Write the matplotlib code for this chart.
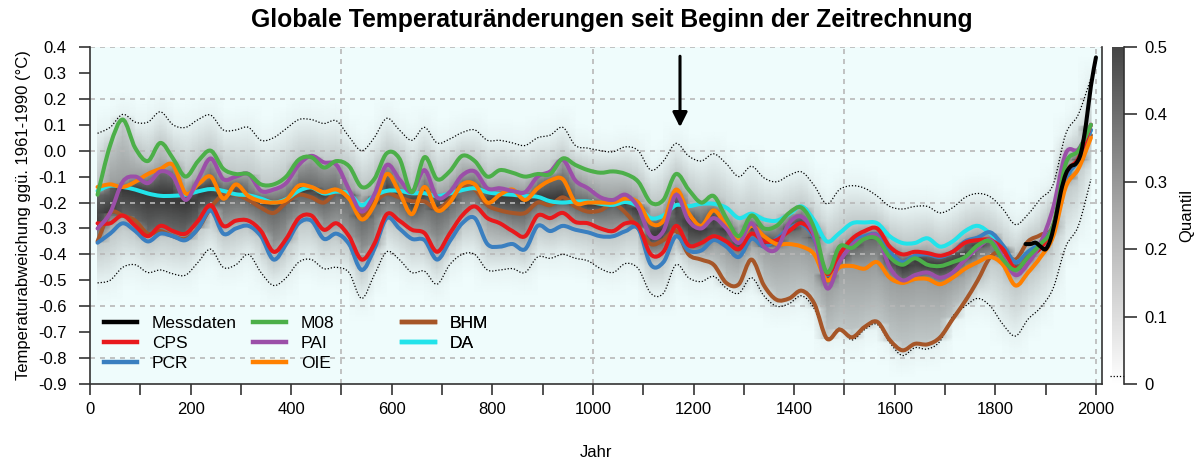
import numpy as np
import matplotlib
matplotlib.use("Agg")
import matplotlib.pyplot as plt
from matplotlib.colors import LinearSegmentedColormap
from matplotlib.lines import Line2D
from matplotlib.path import Path
from matplotlib.patches import PathPatch

plt.rcParams['font.family'] = ['Liberation Sans', 'DejaVu Sans']
plt.rcParams['axes.unicode_minus'] = False

# --- data (25-year steps) ---
years = np.arange(15, 1991, 25)

m08 = [-0.17, 0.02, 0.12, 0.01, -0.04, 0.03, -0.03, -0.10, -0.04, 0.0,
       -0.07, -0.09, -0.09, -0.13, -0.13, -0.10, -0.035, -0.025, -0.065, -0.04,
       -0.06, -0.14, -0.11, -0.01, -0.03, -0.16, -0.025, -0.11, -0.08, -0.02,
       -0.04, -0.10, -0.075, -0.085, -0.10, -0.09, -0.09, -0.03, -0.055, -0.075,
       -0.085, -0.08, -0.09, -0.12, -0.20, -0.19, -0.09, -0.15, -0.20, -0.175,
       -0.26, -0.33, -0.25, -0.30, -0.29, -0.24, -0.22, -0.30, -0.47, -0.37,
       -0.375, -0.34, -0.34, -0.41, -0.44, -0.415, -0.44, -0.445, -0.43, -0.41,
       -0.365, -0.35, -0.42, -0.46, -0.41, -0.36, -0.29, -0.05, 0.0, 0.10]

cps = [-0.28, -0.28, -0.25, -0.29, -0.33, -0.29, -0.31, -0.32, -0.27, -0.21,
       -0.29, -0.27, -0.27, -0.31, -0.39, -0.34, -0.26, -0.25, -0.305, -0.28,
       -0.33, -0.42, -0.36, -0.245, -0.27, -0.305, -0.318, -0.39, -0.32, -0.25,
       -0.215, -0.26, -0.28, -0.31, -0.33, -0.25, -0.26, -0.24, -0.275, -0.28,
       -0.30, -0.31, -0.28, -0.29, -0.40, -0.39, -0.29, -0.365, -0.356, -0.33,
       -0.35, -0.38, -0.32, -0.35, -0.345, -0.31, -0.28, -0.33, -0.475, -0.40,
       -0.34, -0.31, -0.30, -0.37, -0.40, -0.39, -0.395, -0.405, -0.39, -0.355,
       -0.345, -0.345, -0.38, -0.455, -0.41, -0.375, -0.29, -0.09, -0.03, 0.10]

pcr = [-0.355, -0.32, -0.28, -0.31, -0.35, -0.32, -0.33, -0.345, -0.30, -0.23,
       -0.32, -0.30, -0.29, -0.33, -0.42, -0.36, -0.28, -0.27, -0.34, -0.32,
       -0.36, -0.46, -0.38, -0.26, -0.30, -0.34, -0.345, -0.42, -0.35, -0.28,
       -0.26, -0.36, -0.37, -0.36, -0.38, -0.29, -0.31, -0.29, -0.305, -0.315,
       -0.33, -0.33, -0.31, -0.30, -0.44, -0.43, -0.33, -0.385, -0.385, -0.345,
       -0.37, -0.41, -0.34, -0.37, -0.34, -0.30, -0.285, -0.34, -0.48, -0.40,
       -0.35, -0.33, -0.325, -0.39, -0.43, -0.405, -0.40, -0.41, -0.39, -0.35,
       -0.335, -0.315, -0.365, -0.43, -0.39, -0.355, -0.29, -0.11, -0.035, 0.08]

pai = [-0.30, -0.24, -0.12, -0.10, -0.125, -0.08, -0.10, -0.19, -0.11, -0.03,
       -0.11, -0.10, -0.09, -0.155, -0.15, -0.125, -0.055, -0.02, -0.045, -0.055,
       -0.15, -0.235, -0.17, -0.055, -0.11, -0.16, -0.075, -0.18, -0.16, -0.095,
       -0.08, -0.145, -0.145, -0.155, -0.16, -0.10, -0.08, -0.035, -0.115, -0.145,
       -0.18, -0.19, -0.17, -0.22, -0.33, -0.31, -0.17, -0.27, -0.30, -0.26,
       -0.30, -0.356, -0.28, -0.37, -0.38, -0.28, -0.255, -0.33, -0.53, -0.43,
       -0.365, -0.34, -0.33, -0.45, -0.50, -0.48, -0.47, -0.49, -0.47, -0.42,
       -0.375, -0.345, -0.41, -0.48, -0.435, -0.355, -0.22, -0.01, 0.005, 0.10]

oie = [-0.14, -0.13, -0.14, -0.12, -0.09, -0.07, -0.055, -0.165, -0.13, -0.10,
       -0.185, -0.13, -0.175, -0.195, -0.20, -0.19, -0.135, -0.14, -0.16, -0.15,
       -0.185, -0.265, -0.21, -0.09, -0.16, -0.245, -0.14, -0.23, -0.20, -0.13,
       -0.13, -0.20, -0.17, -0.15, -0.19, -0.145, -0.115, -0.11, -0.20, -0.20,
       -0.20, -0.20, -0.185, -0.20, -0.28, -0.27, -0.15, -0.24, -0.29, -0.23,
       -0.29, -0.345, -0.29, -0.33, -0.36, -0.36, -0.37, -0.40, -0.50, -0.45,
       -0.445, -0.455, -0.43, -0.49, -0.51, -0.495, -0.495, -0.515, -0.49, -0.455,
       -0.43, -0.41, -0.44, -0.52, -0.47, -0.41, -0.33, -0.14, -0.07, 0.05]

bhm = [-0.35, -0.24, -0.25, -0.27, -0.32, -0.31, -0.33, -0.34, -0.30, -0.22,
       -0.17, -0.17, -0.19, -0.22, -0.24, -0.20, -0.17, -0.18, -0.20, -0.16,
       -0.17, -0.25, -0.20, -0.165, -0.18, -0.195, -0.196, -0.225, -0.19, -0.14,
       -0.15, -0.21, -0.23, -0.24, -0.24, -0.20, -0.21, -0.18, -0.215, -0.235,
       -0.23, -0.205, -0.24, -0.30, -0.36, -0.345, -0.31, -0.40, -0.42, -0.44,
       -0.51, -0.515, -0.42, -0.52, -0.575, -0.57, -0.54, -0.59, -0.725, -0.69,
       -0.72, -0.68, -0.66, -0.73, -0.77, -0.745, -0.747, -0.72, -0.65, -0.58,
       -0.50, -0.41, -0.39, -0.42, -0.35, -0.325, -0.29, -0.10, -0.04, 0.06]

da = [-0.155, -0.135, -0.14, -0.15, -0.165, -0.174, -0.174, -0.17, -0.157, -0.148,
      -0.155, -0.168, -0.172, -0.185, -0.20, -0.187, -0.155, -0.142, -0.165, -0.158,
      -0.165, -0.21, -0.175, -0.155, -0.155, -0.164, -0.164, -0.175, -0.165, -0.152,
      -0.145, -0.16, -0.167, -0.17, -0.175, -0.178, -0.195, -0.20, -0.196, -0.196,
      -0.205, -0.209, -0.198, -0.215, -0.26, -0.25, -0.21, -0.214, -0.205, -0.205,
      -0.22, -0.26, -0.243, -0.265, -0.27, -0.245, -0.215, -0.27, -0.35, -0.318,
      -0.28, -0.277, -0.28, -0.33, -0.356, -0.356, -0.338, -0.37, -0.35, -0.31,
      -0.29, -0.32, -0.37, -0.43, -0.39, -0.355, -0.29, -0.11, -0.035, 0.08]

upper = [0.067, 0.09, 0.14, 0.11, 0.11, 0.15, 0.10, 0.09, 0.12, 0.137,
         0.08, 0.08, 0.09, 0.04, 0.05, 0.085, 0.12, 0.12, 0.105, 0.115,
         0.054, 0.0, 0.05, 0.125, 0.08, 0.04, 0.09, 0.03, 0.045, 0.07,
         0.08, 0.04, 0.04, 0.03, 0.02, 0.05, 0.06, 0.09, 0.02, 0.01,
         0.0, -0.004, 0.015, 0.0, -0.075, -0.04, 0.028, -0.02, -0.04, -0.012,
         -0.05, -0.10, -0.06, -0.105, -0.12, -0.095, -0.082, -0.135, -0.205, -0.15,
         -0.135, -0.145, -0.175, -0.215, -0.225, -0.215, -0.215, -0.24, -0.22, -0.18,
         -0.165, -0.178, -0.225, -0.285, -0.245, -0.185, -0.13, 0.065, 0.14, 0.28]

lower = [-0.51, -0.50, -0.45, -0.44, -0.47, -0.46, -0.475, -0.48, -0.43, -0.38,
         -0.45, -0.44, -0.40, -0.47, -0.52, -0.49, -0.43, -0.42, -0.455, -0.45,
         -0.47, -0.57, -0.48, -0.39, -0.42, -0.47, -0.465, -0.515, -0.44, -0.40,
         -0.40, -0.46, -0.46, -0.455, -0.47, -0.41, -0.415, -0.40, -0.415, -0.425,
         -0.455, -0.47, -0.435, -0.455, -0.55, -0.55, -0.44, -0.49, -0.505, -0.485,
         -0.53, -0.55, -0.49, -0.56, -0.60, -0.59, -0.56, -0.61, -0.725, -0.685,
         -0.73, -0.69, -0.67, -0.74, -0.79, -0.76, -0.765, -0.735, -0.64, -0.60,
         -0.57, -0.60, -0.67, -0.715, -0.65, -0.605, -0.53, -0.37, -0.29, -0.11]

mess_years = [1860, 1870, 1880, 1890, 1900, 1910, 1920, 1930, 1940, 1950,
              1960, 1970, 1980, 1990, 2000]
mess = [-0.36, -0.36, -0.355, -0.37, -0.38, -0.34, -0.26, -0.16, -0.09, -0.06,
        -0.05, -0.01, 0.10, 0.25, 0.36]

series = [
    ('BHM', bhm, '#a65628'),
    ('DA', da, '#22e3ea'),
    ('PCR', pcr, '#3a7fc0'),
    ('CPS', cps, '#e8191c'),
    ('OIE', oie, '#ff8000'),
    ('PAI', pai, '#9b4fa8'),
    ('M08', m08, '#4caf49'),
]
colors = {name: c for name, _, c in series}
colors['Messdaten'] = 'black'


def smooth_path(x, y):
    # Catmull-Rom curve through the points, drawn as cubic Bezier segments
    p = np.column_stack([x, y]).astype(float)
    ext = np.vstack([p[0], p, p[-1]])
    verts = [p[0]]
    codes = [Path.MOVETO]
    for i in range(len(p) - 1):
        p0, p1, p2, p3 = ext[i], ext[i + 1], ext[i + 2], ext[i + 3]
        verts += [p1 + (p2 - p0) / 6, p2 - (p3 - p1) / 6, p2]
        codes += [Path.CURVE4] * 3
    return Path(verts, codes)


def draw_curve(ax, x, y, **kw):
    ax.add_patch(PathPatch(smooth_path(x, y), fill=False, **kw))


# --- shading: quantile of the ensemble at each year ---
yy = np.linspace(-0.9, 0.4, 400)
recon = np.array([s[1] for s in series])
shade = np.zeros((len(yy), len(years)))
for j in range(len(years)):
    knots = np.sort(np.r_[lower[j], recon[:, j], upper[j]])
    qk = np.linspace(0.025, 0.975, len(knots))
    ky = np.r_[knots[0] - 0.09, knots, knots[-1] + 0.09]
    kq = np.r_[0.0, qk, 1.0]
    q = np.interp(yy, ky, kq)
    shade[:, j] = np.minimum(q, 1 - q)

bg = '#effcfc'
cmap_plot = LinearSegmentedColormap.from_list('q', [bg, '#9fa3a3', '#363636'])
cmap_bar = LinearSegmentedColormap.from_list('qb', ['#ffffff', '#acacac', '#454545'])

fig = plt.figure(figsize=(11.99, 4.61), dpi=100)
ax = fig.add_axes([90 / 1199, 77 / 461, 1012 / 1199, 337 / 461])
ax.set_facecolor(bg)
ax.pcolormesh(years, yy, shade, cmap=cmap_plot, vmin=0, vmax=0.5,
              shading='gouraud', zorder=0, rasterized=True)

for yv in [0.4, 0.2, 0.0, -0.2, -0.4, -0.6, -0.8]:
    ax.axhline(yv, color='#b8b8b8', lw=1.2, dashes=(3, 3), zorder=1)
for xv in [500, 1000, 1500, 2000]:
    ax.axvline(xv, color='#b8b8b8', lw=1.2, dashes=(3, 3), zorder=1)

dotted = dict(edgecolor='black', lw=0.9, linestyle=(0, (1, 1.5)), zorder=2)
draw_curve(ax, years, upper, **dotted)
draw_curve(ax, years, lower, **dotted)

for name, vals, c in series:
    draw_curve(ax, years, vals, edgecolor=c, lw=2.9, capstyle='round',
               joinstyle='round', zorder=3)
draw_curve(ax, mess_years, mess, edgecolor='black', lw=2.9, capstyle='round',
           joinstyle='round', zorder=4)

ax.annotate('', xy=(1173, 0.08), xytext=(1173, 0.375),
            arrowprops=dict(arrowstyle='-|>', color='black', lw=2.2,
                            mutation_scale=22), zorder=5)

ax.set_xlim(0, 2012)
ax.set_ylim(-0.9, 0.4)
ax.set_xticks(np.arange(0, 2001, 200))
ax.set_xticks(np.arange(100, 2001, 200), minor=True)
yt = np.round(np.arange(-0.9, 0.41, 0.1), 1)
ax.set_yticks(yt)
ax.set_yticklabels(['%.1f' % v if abs(v) > 1e-9 else '0.0' for v in yt])
ax.tick_params(which='both', direction='out', length=8, width=1.2,
               color='#333333', labelsize=12, pad=5)
ax.tick_params(axis='y', pad=9)
for side in ['left', 'bottom', 'right']:
    ax.spines[side].set_color('#333333')
    ax.spines[side].set_linewidth(1.2)
ax.spines['top'].set_visible(False)
ax.set_xlabel('Jahr', fontsize=12, labelpad=20)
ax.set_ylabel('Temperaturabweichung ggü. 1961-1990 (°C)', fontsize=12, labelpad=5)

fig.text(612 / 1199, 1 - 20 / 461, 'Globale Temperaturänderungen seit Beginn der Zeitrechnung',
         ha='center', va='center', fontsize=17.8, fontweight='bold')

# legend in three columns of equal width
legend_cols = [['Messdaten', 'CPS', 'PCR'], ['M08', 'PAI', 'OIE'], ['BHM', 'DA']]
col_x = [0.014, 0.161, 0.308]
for names, x0 in zip(legend_cols, col_x):
    handles = [Line2D([], [], color=colors[n], lw=3.2) for n in names]
    leg = ax.legend(handles, names, loc='upper left', bbox_to_anchor=(x0, 0.203),
                    frameon=False, fontsize=12.5, handlelength=1.9,
                    handletextpad=0.85, labelspacing=0.3, borderpad=0,
                    borderaxespad=0)
    leg.set_zorder(6)
    ax.add_artist(leg)

# colour bar
cax = fig.add_axes([1112 / 1199, 77 / 461, 12 / 1199, 337 / 461])
grad = np.linspace(0, 0.5, 256).reshape(-1, 1)
cax.imshow(grad, cmap=cmap_bar, aspect='auto', origin='lower',
           extent=[0, 1, 0, 0.5], vmin=0, vmax=0.5)
cax.set_xlim(0, 1)
cax.set_ylim(0, 0.5)
cax.set_xticks([])
cax.yaxis.tick_right()
cax.yaxis.set_label_position('right')
cax.set_yticks([0, 0.1, 0.2, 0.3, 0.4, 0.5])
cax.set_yticklabels(['0', '0.1', '0.2', '0.3', '0.4', '0.5'])
cax.tick_params(direction='out', length=9, width=1.2, color='#333333',
                labelsize=12, pad=6)
for side in ['left', 'top', 'bottom']:
    cax.spines[side].set_visible(False)
cax.spines['right'].set_color('#333333')
cax.spines['right'].set_linewidth(1.2)
cax.set_ylabel('Quantil', fontsize=12, labelpad=8)
cax.plot([-0.2, 1.0], [0.0125, 0.0125], color='black', lw=0.9,
         ls=(0, (1, 1.5)), clip_on=False)

fig.savefig('out.png', dpi=100)
